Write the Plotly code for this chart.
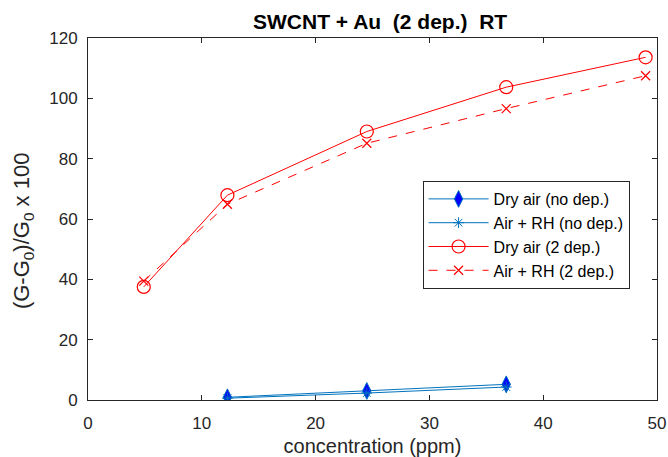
import plotly.graph_objects as go

x_nodep = [12.25, 24.5, 36.75]
dry_nodep = [0.9, 3.0, 5.2]
rh_nodep = [0.6, 2.3, 4.3]

x_2dep = [4.9, 12.25, 24.5, 36.75, 49.0]
dry_2dep = [37.5, 67.9, 89.0, 103.7, 113.6]
rh_2dep = [39.4, 64.9, 85.1, 96.6, 107.5]

x_ticks = [0, 10, 20, 30, 40, 50]
y_ticks = [0, 20, 40, 60, 80, 100, 120]

FONT = "Liberation Sans, Arial, sans-serif"
AX = "#262626"

fig = go.Figure()
fig.add_trace(go.Scatter(
    x=x_nodep, y=dry_nodep, mode="lines+markers", name="Dry air (no dep.)",
    line=dict(color="#0072BD", width=1),
    marker=dict(symbol="diamond-tall", size=12, color="#0000FF", line=dict(color="#0072BD", width=1))))
fig.add_trace(go.Scatter(
    x=x_nodep, y=rh_nodep, mode="lines+markers", name="Air + RH (no dep.)",
    line=dict(color="#0072BD", width=1),
    marker=dict(symbol="asterisk-open", size=9, color="#0072BD", line=dict(color="#0072BD", width=1))))
fig.add_trace(go.Scatter(
    x=x_2dep, y=dry_2dep, mode="lines+markers", name="Dry air (2 dep.)",
    line=dict(color="#FF0000", width=1),
    marker=dict(symbol="circle-open", size=13, color="#FF0000", line=dict(color="#FF0000", width=1.2))))
fig.add_trace(go.Scatter(
    x=x_2dep, y=rh_2dep, mode="lines+markers", name="Air + RH (2 dep.)",
    line=dict(color="#FF0000", width=1, dash="dash"),
    marker=dict(symbol="x-thin-open", size=9, color="#FF0000", line=dict(color="#FF0000", width=1.2))))

axis_common = dict(
    showgrid=False, zeroline=False, showline=True, linecolor=AX, linewidth=1,
    mirror="ticks", ticks="inside", ticklen=5, tickcolor=AX, automargin=False,
    tickfont=dict(family=FONT, size=17, color=AX),
)

fig.update_layout(
    width=668, height=457,
    margin=dict(l=88, r=11, t=38, b=57),
    plot_bgcolor="white", paper_bgcolor="white",
    title=dict(text="<b>SWCNT + Au&nbsp;&nbsp;(2 dep.)&nbsp;&nbsp;RT</b>", x=0.569, xanchor="center",
               y=0.952, yanchor="middle",
               font=dict(family=FONT, size=21, color="black")),
    xaxis=dict(range=[0, 50], tickvals=x_ticks, ticklabelstandoff=8,
               title=dict(text="concentration (ppm)", font=dict(family=FONT, size=20, color=AX), standoff=9),
               **axis_common),
    yaxis=dict(range=[0, 120], tickvals=y_ticks, ticklabelstandoff=6,
               **axis_common),
    annotations=[dict(text="(G-G<sub>0</sub>)/G<sub>0</sub> x 100", xref="paper", yref="paper",
                      x=-0.114, y=0.467, xanchor="center", yanchor="middle", textangle=-90,
                      showarrow=False, font=dict(family=FONT, size=22, color=AX))],
    legend=dict(x=0.588, y=0.605, xanchor="left", yanchor="top",
                bgcolor="white", bordercolor=AX, borderwidth=1,
                font=dict(family=FONT, size=16, color="black"),
                tracegroupgap=0, itemwidth=60),
    showlegend=True,
)

fig.write_html("out.html")
